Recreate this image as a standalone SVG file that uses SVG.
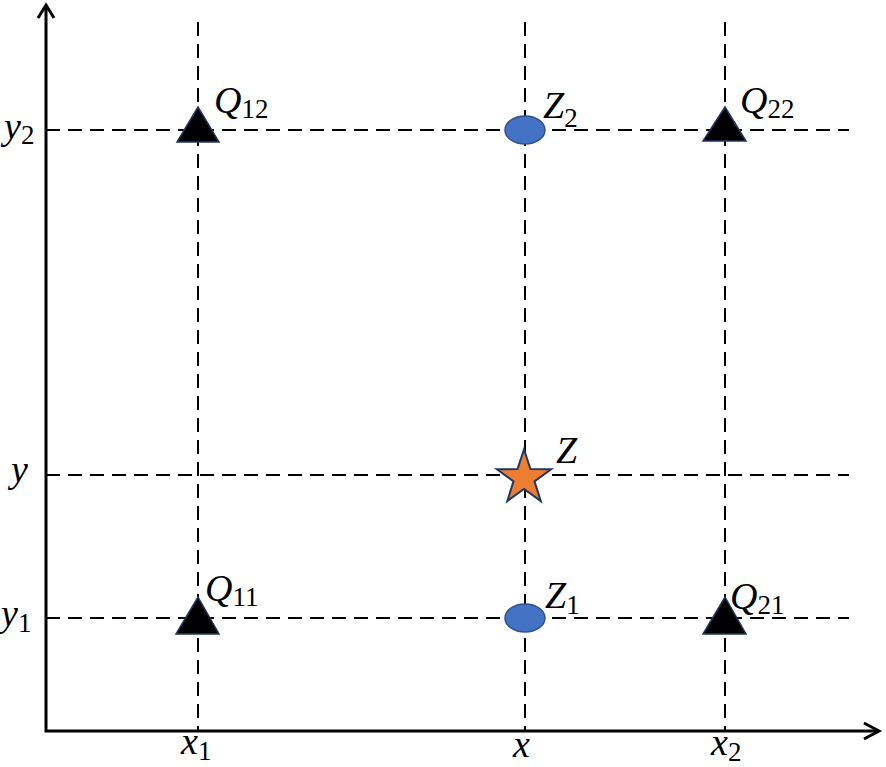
<svg xmlns="http://www.w3.org/2000/svg" width="886" height="767" viewBox="0 0 886 767">
<style>
.dash{stroke:#000;stroke-width:2;stroke-dasharray:14 8;fill:none}
.axis{stroke:#000;stroke-width:3;fill:none}
.tri{fill:#000;stroke:#1F3864;stroke-width:1.5}
.ell{fill:#4472C4;stroke:#2F528F;stroke-width:1.5}
.star{fill:#ED7D31;stroke:#1F3864;stroke-width:2}
.m{font-family:"Liberation Serif","Times New Roman",serif;font-style:italic;font-size:38px;fill:#000}
.s{font-family:"Liberation Serif","Times New Roman",serif;font-style:normal;font-size:27px}
</style>
<rect width="886" height="767" fill="#fff"/>
<g id="connectors">
<line class="dash" x1="198" y1="22" x2="198" y2="731"/>
<line class="dash" x1="525" y1="22" x2="525" y2="731"/>
<line class="dash" x1="725" y1="22" x2="725" y2="731"/>
<line class="dash" x1="46" y1="130" x2="849" y2="130"/>
<line class="dash" x1="46" y1="475" x2="849" y2="475"/>
<line class="dash" x1="46" y1="618" x2="849" y2="618"/>
<polyline class="axis" points="46,5 46,731 879,731"/>
<polyline class="axis" points="38,18 46,5 54,18"/>
<polyline class="axis" points="864,723 879,731 864,739"/>
</g>
<g id="Q12"><polygon class="tri" points="198,107 219,142 177,142"/><text class="m" x="214" y="113">Q<tspan class="s" dy="5">12</tspan></text></g>
<g id="Q22"><polygon class="tri" points="725,107 746,141 703,141"/><text class="m" x="740" y="113">Q<tspan class="s" dy="5">22</tspan></text></g>
<g id="Q11"><polygon class="tri" points="198,597 219,634 176,634"/><text class="m" x="205" y="601">Q<tspan class="s" dy="5">11</tspan></text></g>
<g id="Q21"><polygon class="tri" points="725,597 746,634 703,634"/><text class="m" x="730" y="609">Q<tspan class="s" dy="5">21</tspan></text></g>
<g id="Z2"><ellipse class="ell" cx="525" cy="130" rx="20" ry="14"/><text class="m" x="543" y="118">Z<tspan class="s" dy="9">2</tspan></text></g>
<g id="Z1"><ellipse class="ell" cx="525" cy="618" rx="20" ry="14"/><text class="m" x="545" y="608">Z<tspan class="s" dy="6">1</tspan></text></g>
<g id="Z"><polygon class="star" points="524,449.5 530.5,469.1 551.1,469.2 534.5,481.4 540.8,501.1 524,489 507.3,501.1 513.5,481.4 496.9,469.2 517.5,469.1"/><text class="m" x="556" y="463">Z</text></g>
<g id="axis-labels">
<text class="m" x="4" y="139">y<tspan class="s" dy="5">2</tspan></text>
<text class="m" x="11" y="482">y</text>
<text class="m" x="1" y="626">y<tspan class="s" dy="6">1</tspan></text>
<text class="m" x="181" y="754">x<tspan class="s" dy="6">1</tspan></text>
<text class="m" x="513" y="757">x</text>
<text class="m" x="711" y="755">x<tspan class="s" dy="6">2</tspan></text>
</g>
</svg>
